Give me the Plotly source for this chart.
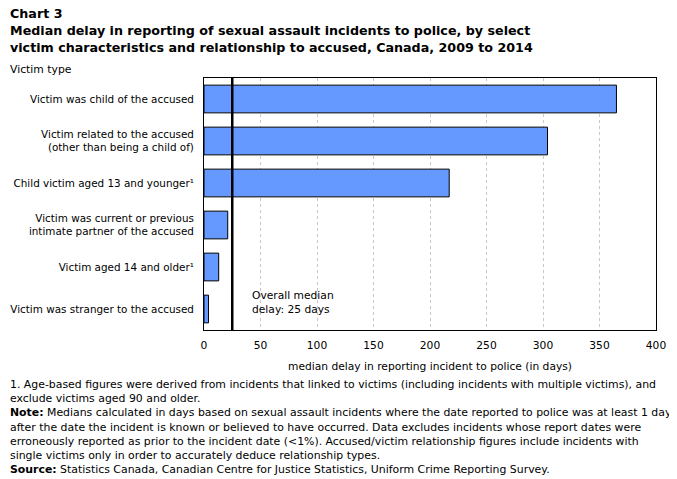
import plotly.graph_objects as go

categories = [
    "Victim was child of the accused",
    "Victim related to the accused<br>(other than being a child of)",
    "Child victim aged 13 and younger¹",
    "Victim was current or previous<br>intimate partner of the accused",
    "Victim aged 14 and older¹",
    "Victim was stranger to the accused",
]
values = [365, 304, 217, 21, 13, 4]
overall_median = 25
x_ticks = [0, 50, 100, 150, 200, 250, 300, 350, 400]

# page body has an 8px margin; lay the figure out in window pixels, shifted by it
OFF = 8
W, H = 677 - OFF, 479 - OFF
L, R, T, B = 204, 656, 78, 330  # plot area in window pixels

def px(x):
    return (x - L) / (R - L)

def py(y):
    return (B - y) / (B - T)

FONT = "DejaVu Sans, Verdana, sans-serif"
FS = 10.7

fig = go.Figure()
fig.add_trace(go.Bar(
    y=categories, x=values, orientation="h",
    marker=dict(color="#6699FF", line=dict(color="black", width=1)),
    width=0.66,
))

fig.add_shape(type="line", x0=overall_median, x1=overall_median, y0=0, y1=1,
              xref="x", yref="paper", line=dict(color="black", width=2.5))

annotations = []

def txt(x, y, text, size, bold=False, family=FONT, yanchor="top"):
    annotations.append(dict(x=px(x), y=py(y), xref="paper", yref="paper",
                            text=f"<b>{text}</b>" if bold else text,
                            showarrow=False, xanchor="left", yanchor=yanchor,
                            align="left", font=dict(family=family, size=size, color="black")))

txt(250, 302, "Overall median<br>delay: 25 days", FS, yanchor="middle")
txt(8, 4, "Chart 3", 12.7, bold=True)
txt(8, 21, "Median delay in reporting of sexual assault incidents to police, by select<br>victim characteristics and relationship to accused, Canada, 2009 to 2014", 12.7, bold=True)
txt(8, 61, "Victim type", 10.8)

notes = ("1. Age-based figures were derived from incidents that linked to victims (including incidents with multiple victims), and<br>"
         "exclude victims aged 90 and older.<br>"
         "<b>Note:</b> Medians calculated in days based on sexual assault incidents where the date reported to police was at least 1 day<br>"
         "after the date the incident is known or believed to have occurred. Data excludes incidents whose report dates were<br>"
         "erroneously reported as prior to the incident date (<1%). Accused/victim relationship figures include incidents with<br>"
         "single victims only in order to accurately deduce relationship types.<br>"
         "<b>Source:</b> Statistics Canada, Canadian Centre for Justice Statistics, Uniform Crime Reporting Survey.")
txt(8, 376, notes, 10.9)

fig.update_layout(
    width=W, height=H,
    margin=dict(l=L - OFF, r=677 - R, t=T - OFF, b=479 - B, autoexpand=False),
    plot_bgcolor="white", paper_bgcolor="white",
    showlegend=False,
    annotations=annotations,
    font=dict(family=FONT, size=FS, color="black"),
    xaxis=dict(range=[0, 400], tickvals=x_ticks, ticktext=[str(v) for v in x_ticks],
               showgrid=True, gridcolor="#c8c8c8", griddash="dot", gridwidth=1,
               showline=True, linecolor="black", linewidth=1, mirror=True,
               ticks="", zeroline=False, automargin=False, ticklabelstandoff=5,
               title=dict(text="median delay in reporting incident to police (in days)",
                          font=dict(family=FONT, size=FS), standoff=11),
               tickfont=dict(family=FONT, size=FS)),
    yaxis=dict(autorange="reversed", showline=True, linecolor="black", linewidth=1, mirror=True,
               showgrid=False, ticks="", ticklabelstandoff=7, automargin=False,
               tickfont=dict(family=FONT, size=10.4)),
)

fig.write_html("out.html")
